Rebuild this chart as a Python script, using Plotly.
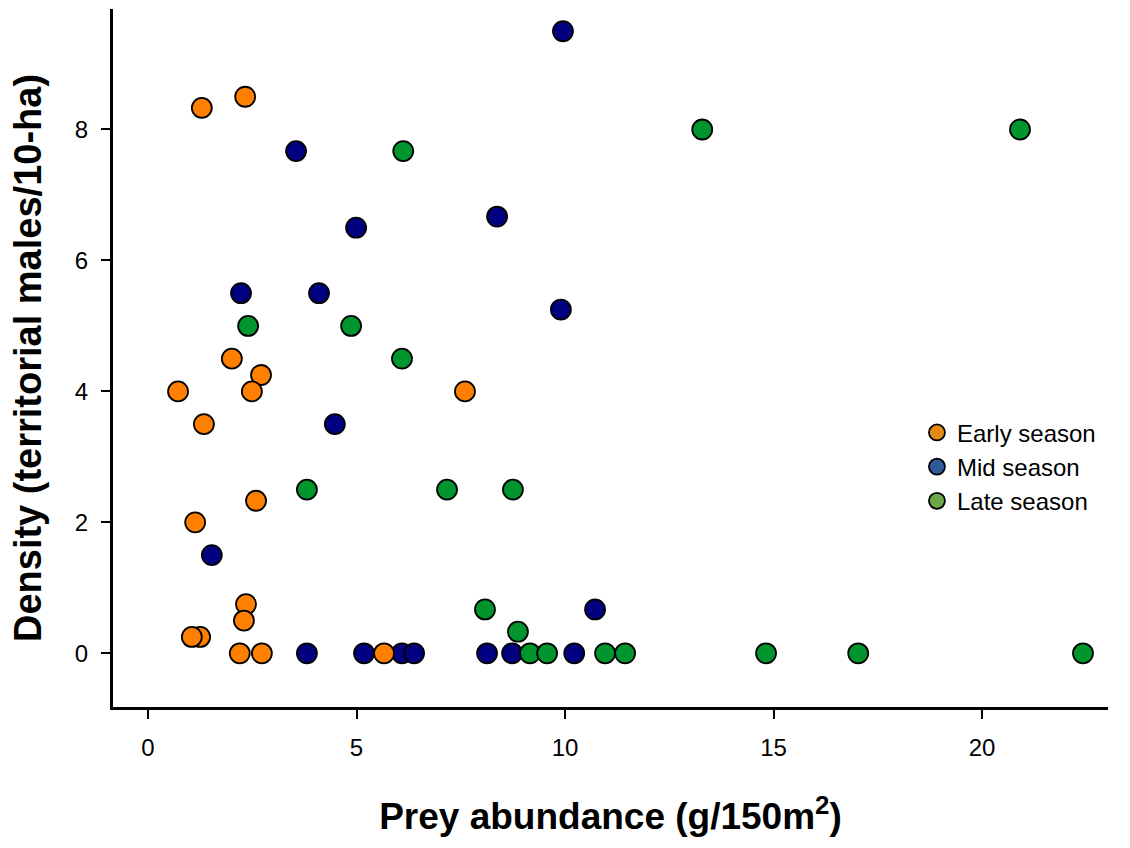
import plotly.graph_objects as go

# ---- data ----
early_x = [1.29, 2.33, 0.72, 2.01, 2.71, 2.49, 1.34, 7.60, 2.59, 1.13, 2.35, 2.30, 1.25, 1.05, 2.20, 2.73, 5.66]
early_y = [8.33, 8.50, 4.00, 4.50, 4.25, 4.00, 3.50, 4.00, 2.33, 2.00, 0.75, 0.50, 0.25, 0.25, 0.0, 0.0, 0.0]

mid_x = [9.95, 3.55, 8.37, 4.99, 2.23, 4.10, 9.90, 4.48, 1.53, 10.72, 3.81, 5.18, 6.09, 6.38, 8.13, 8.73, 10.22]
mid_y = [9.50, 7.67, 6.67, 6.50, 5.50, 5.50, 5.25, 3.50, 1.50, 0.67, 0.0, 0.0, 0.0, 0.0, 0.0, 0.0, 0.0]

late_x = [13.29, 20.91, 6.12, 2.40, 4.87, 6.09, 3.81, 7.17, 8.75, 8.08, 8.87, 9.16, 9.57, 10.96, 11.44, 14.82, 17.03, 22.42]
late_y = [8.00, 8.00, 7.67, 5.00, 5.00, 4.50, 2.50, 2.50, 2.50, 0.67, 0.33, 0.0, 0.0, 0.0, 0.0, 0.0, 0.0, 0.0]

series_names = ["Early season", "Mid season", "Late season"]
point_colors = ["#FF8000", "#000080", "#00962D"]
legend_colors = ["#E38A15", "#2E5A9C", "#6AAA45"]

x_ticks = [0, 5, 10, 15, 20]
y_ticks = [0, 2, 4, 6, 8]

FONT = "Liberation Sans, Arial, sans-serif"

fig = go.Figure()

def add_points(xs, ys, color, name):
    fig.add_trace(go.Scatter(
        x=xs, y=ys, mode="markers", name=name, showlegend=False,
        marker=dict(size=20, color=color, line=dict(color="black", width=1.8)),
    ))

# drawing order: mid, early, late
add_points(mid_x, mid_y, point_colors[1], series_names[1])
add_points(early_x, early_y, point_colors[0], series_names[0])
add_points(late_x, late_y, point_colors[2], series_names[2])

# legend entries (legend swatches use lighter colours in the reference)
for name, col in zip(series_names, legend_colors):
    fig.add_trace(go.Scatter(
        x=[None], y=[None], mode="markers", name=name, showlegend=True,
        marker=dict(size=16, color=col, line=dict(color="black", width=1.8)),
    ))

fig.update_layout(
    width=1130, height=848,
    margin=dict(l=113, r=22, t=9, b=141),
    paper_bgcolor="white", plot_bgcolor="white",
    font=dict(family=FONT, color="black"),
    legend=dict(
        x=0.808, y=0.425, xanchor="left", yanchor="top",
        font=dict(size=24, family=FONT, color="black"),
        bgcolor="rgba(0,0,0,0)", itemsizing="trace",
        tracegroupgap=0,
    ),
    xaxis=dict(
        range=[-0.84, 23.02], tickmode="array", tickvals=x_ticks,
        ticktext=[str(v) for v in x_ticks],
        showgrid=False, zeroline=False,
        showline=True, linecolor="black", linewidth=3,
        ticks="outside", ticklen=9, tickwidth=2, tickcolor="black",
        tickfont_size=24, tickfont_family=FONT, tickfont_color="black",
        ticklabelstandoff=8,
        title=dict(text="<b>Prey abundance (g/150m<sup>2</sup>)</b>",
                   font=dict(size=37, family=FONT, color="black"), standoff=44),
    ),
    yaxis=dict(
        range=[-0.82, 9.84], tickmode="array", tickvals=y_ticks,
        ticktext=[str(v) for v in y_ticks],
        showgrid=False, zeroline=False,
        showline=True, linecolor="black", linewidth=3,
        ticks="outside", ticklen=9, tickwidth=2, tickcolor="black",
        tickfont_size=24, tickfont_family=FONT, tickfont_color="black",
        ticklabelstandoff=8,
        title=dict(text="<b>Density (territorial males/10-ha)</b>",
                   font=dict(size=38, family=FONT, color="black"), standoff=22),
    ),
)

fig.write_html("out.html")
